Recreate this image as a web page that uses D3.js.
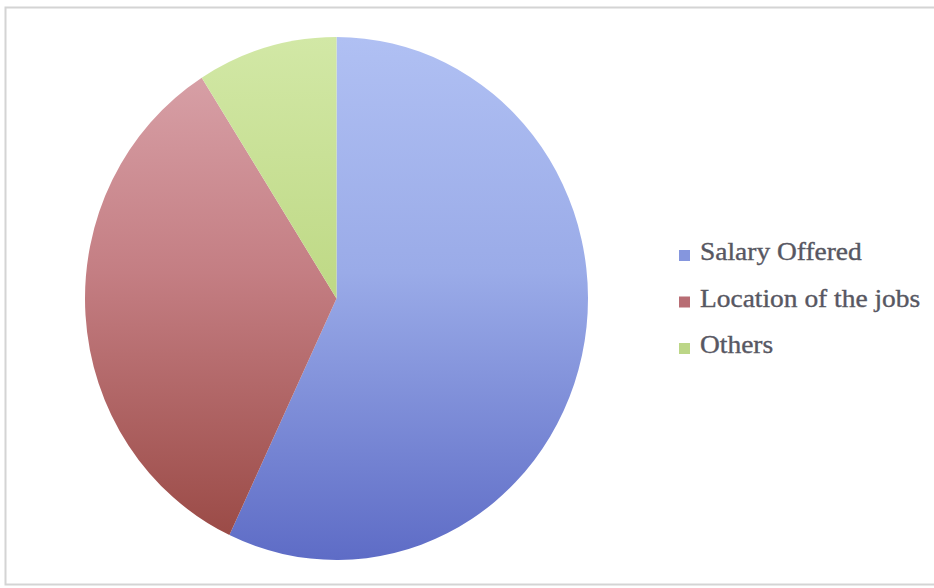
<!DOCTYPE html>
<html>
<head>
<meta charset="utf-8">
<script src="https://cdn.jsdelivr.net/npm/d3@7"></script>
<style>
html,body{margin:0;padding:0;background:#fff;}
svg{display:block;}
</style>
</head>
<body>
<svg id="chart" width="934" height="588"></svg>
<script>
const categories = ["Salary Offered", "Location of the jobs", "Others"];
const values = [57, 34, 9];
const topColors = ["#b0c0f3", "#dba6ad", "#d2e8a6"];
const midColors = ["#9aabe8", "#c47e83", "#c0da88"];
const bottomColors = ["#5e6cc6", "#974641", "#a9c56c"];

const svg = d3.select("#chart");
const W = 934, H = 588;
const cx = 336.5, cy = 298.5, ry = 261.5, rx = 251.5;

// frame
svg.append("rect").attr("x", 5.5).attr("y", 7.5).attr("width", W).attr("height", 577)
  .attr("fill", "#fff").attr("stroke", "#d4d4d4").attr("stroke-width", 2);

const defs = svg.append("defs");
categories.forEach((c, i) => {
  const g = defs.append("linearGradient").attr("id", "grad" + i)
    .attr("gradientUnits", "userSpaceOnUse")
    .attr("x1", 0).attr("y1", -ry).attr("x2", 0).attr("y2", ry);
  g.append("stop").attr("offset", "0%").attr("stop-color", topColors[i]);
  g.append("stop").attr("offset", "45%").attr("stop-color", midColors[i]);
  g.append("stop").attr("offset", "100%").attr("stop-color", bottomColors[i]);
});

const pie = d3.pie().sort(null).value(d => d);
const arc = d3.arc().innerRadius(0).outerRadius(ry);

const gPie = svg.append("g")
  .attr("transform", `translate(${cx},${cy}) scale(${rx / ry},1)`);
gPie.selectAll("path").data(pie(values)).join("path")
  .attr("d", arc)
  .attr("fill", (d, i) => `url(#grad${i})`);

// legend
const legY = d3.scalePoint().domain(categories).range([260, 353]);
const leg = svg.append("g");
const legSwatch = ["#8596de", "#b86d74", "#bcd687"];
const textStretch = 1.12;
categories.forEach((c, i) => {
  leg.append("rect").attr("x", 679).attr("y", legY(c) - 10).attr("width", 11).attr("height", 11)
    .attr("fill", legSwatch[i]);
  const t = leg.append("text").attr("x", 700).attr("y", legY(c))
    .attr("font-family", "'Liberation Serif', serif")
    .attr("font-size", 24.5)
    .attr("fill", "#575762")
    .attr("stroke", "#575762").attr("stroke-width", 0.35)
    .text(c);
  const w = t.node().getComputedTextLength();
  t.attr("textLength", w * textStretch).attr("lengthAdjust", "spacingAndGlyphs");
});
</script>
</body>
</html>
